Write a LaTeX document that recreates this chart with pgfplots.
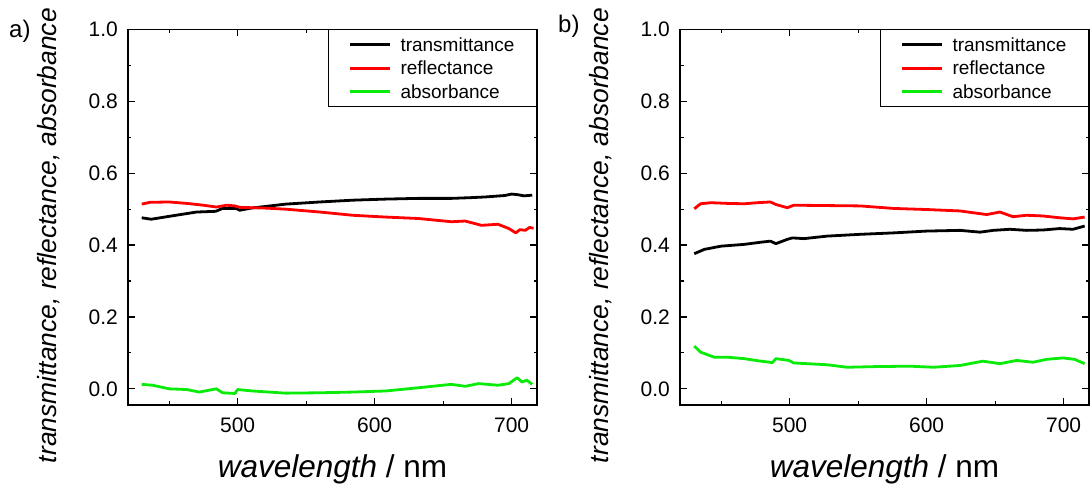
\documentclass[border=0pt]{standalone}
\usepackage{pgfplots}
\pgfplotsset{compat=1.18}
\usepackage{fontspec}
\setmainfont{Liberation Sans}
\definecolor{myred}{RGB}{255,0,0}
\definecolor{mygreen}{RGB}{10,235,10}

\pgfplotsset{
 panel/.style={
  scale only axis, width=409pt, height=375.5pt,
  xmin=420, xmax=718.5, ymin=-0.045, ymax=1.0,
  xtick={500,600,700}, xticklabels={500,600,700},
  minor xtick={450,550,650},
  ytick={0,0.2,0.4,0.6,0.8,1.0}, yticklabels={0.0,0.2,0.4,0.6,0.8,1.0},
  minor ytick={0.1,0.3,0.5,0.7,0.9},
  major tick length=7pt, minor tick length=3.5pt,
  tick style={line width=1.2pt, black},
  axis line style={line width=1.5pt},
  tick align=inside,
  ticklabel style={font=\fontsize{21}{24}\selectfont},
  yticklabel style={inner sep=0pt, anchor=east, xshift=-10pt},
  xticklabel style={inner sep=0pt, anchor=north, yshift=-13pt},
  xlabel={\textit{wavelength} / nm},
  ylabel={\textit{transmittance, reflectance, absorbance}},
  xlabel style={at={(axis description cs:0.5,0)}, anchor=base, yshift=-73pt, font=\fontsize{31.5}{36}\selectfont, inner sep=0pt},
  ylabel style={at={(axis description cs:-0.176,0.451)}, anchor=base, font=\fontsize{26.4}{30}\selectfont, inner sep=0pt},
  legend style={at={(1,1)}, anchor=north east, draw=black, line width=0.9pt,
    inner xsep=13pt, inner ysep=3pt, font=\fontsize{19}{22}\selectfont,
    nodes={inner xsep=9pt, inner ysep=2.5pt, text height=16pt, text depth=2.5pt}},
  legend cell align=left,
  legend image code/.code={\path (0pt,0pt); \draw[##1, line width=2.8pt] (7pt,0pt) -- (47pt,0pt);},
  every axis plot/.append style={line width=2.8pt, line join=round},
 }
}

\begin{document}
\begin{tikzpicture}
\begin{axis}[panel]
\addplot[black] coordinates {(430,0.476)(437,0.472)(450,0.480)(470,0.492)(484,0.494)(489,0.502)(499,0.502)(501.5,0.497)(510,0.503)(535,0.514)(560,0.520)(584,0.525)(608,0.528)(632,0.530)(656,0.530)(670,0.532)(681,0.534)(695,0.538)(700,0.542)(705,0.540)(709,0.537)(715,0.539)};
\addlegendentry{transmittance}
\addplot[myred] coordinates {(430,0.514)(436,0.519)(450,0.520)(463,0.516)(475,0.511)(484.5,0.506)(492,0.511)(498,0.509)(501.5,0.505)(520,0.503)(535,0.500)(560,0.492)(584,0.483)(608,0.478)(632,0.474)(656,0.465)(666,0.467)(678,0.455)(690,0.458)(698,0.446)(703,0.434)(706,0.443)(710,0.441)(713,0.449)(716,0.447)};
\addlegendentry{reflectance}
\addplot[mygreen] coordinates {(430,0.0125)(438,0.010)(450,0.0)(463,-0.002)(472,-0.009)(484.5,0.0)(489,-0.011)(498,-0.013)(500,-0.002)(511,-0.006)(535,-0.012)(560,-0.011)(584,-0.009)(608,-0.006)(632,0.003)(656,0.0125)(666,0.007)(676,0.0145)(690,0.010)(698,0.0145)(704,0.031)(707.5,0.019)(711,0.024)(715,0.0125)};
\addlegendentry{absorbance}
\end{axis}
\begin{axis}[panel, at={(552pt,0pt)}]
\addplot[black] coordinates {(430.4,0.376)(437.7,0.388)(449.8,0.397)(466.8,0.402)(479,0.408)(486,0.411)(490,0.404)(498.3,0.416)(502,0.420)(510.4,0.418)(527.4,0.425)(551.6,0.430)(576,0.434)(600,0.439)(624.4,0.441)(639,0.436)(648.6,0.441)(660.7,0.444)(672.9,0.441)(685,0.442)(697,0.446)(706.8,0.444)(715.3,0.453)};
\addlegendentry{transmittance}
\addplot[myred] coordinates {(430.4,0.501)(435,0.515)(442.5,0.518)(454.7,0.516)(466.8,0.515)(476.5,0.518)(486,0.520)(490,0.513)(498.3,0.504)(503,0.511)(527.4,0.510)(551.6,0.509)(576,0.502)(600,0.499)(624.4,0.495)(643.8,0.485)(653.5,0.492)(663,0.479)(673,0.483)(685,0.481)(697,0.476)(706.8,0.473)(715.3,0.478)};
\addlegendentry{reflectance}
\addplot[mygreen] coordinates {(430.4,0.119)(435,0.102)(445,0.088)(454.7,0.088)(466.8,0.084)(479,0.077)(487.4,0.073)(490,0.084)(499.5,0.079)(503,0.072)(527.4,0.067)(542,0.060)(564,0.062)(588,0.063)(605,0.060)(624.4,0.065)(641,0.077)(653.5,0.070)(665.6,0.079)(677.7,0.074)(687.4,0.082)(699.5,0.086)(708,0.082)(715.3,0.070)};
\addlegendentry{absorbance}
\end{axis}
\node[anchor=base west, inner sep=0pt, font=\fontsize{24}{28}\selectfont] at (-119pt,367pt) {a)};
\node[anchor=base west, inner sep=0pt, font=\fontsize{24}{28}\selectfont] at (430pt,372pt) {b)};
\pgfresetboundingbox
\path[use as bounding box] (-128pt,-84pt) rectangle (964pt,405pt);
\end{tikzpicture}
\end{document}
